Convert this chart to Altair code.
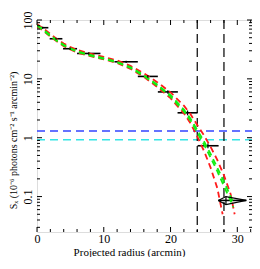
import altair as alt
import pandas as pd

# ---------------- data ----------------
pt_xlo = [0.0, 1.9, 3.9, 6.0, 11.6, 15.1, 18.1, 21.05, 24.05, 27.15]
pt_xhi = [1.7, 3.8, 6.0, 9.5, 15.1, 18.1, 21.1, 24.05, 27.2, 31.35]
pt_y = [74, 48, 32.5, 27, 19.5, 11.0, 6.0, 2.65, 0.73, 0.086]
pt_ylo = [71, 46, 31, 25.8, 18.6, 10.4, 5.6, 2.4, 0.66, 0.073]
pt_yhi = [77, 50, 34, 28.2, 20.4, 11.6, 6.4, 2.9, 0.8, 0.1]
pt_xc = [0.85, 2.85, 4.95, 7.75, 13.35, 16.6, 19.6, 22.55, 25.6, 28.3]

model_x = [0, 1, 2, 3, 4, 5, 6, 8, 10, 12, 14, 16, 18, 20, 22, 23, 24, 25, 26, 27, 28, 29, 29.4]
green_a = [82, 68, 55, 45, 38, 33, 29.5, 25.5, 22.5, 19.5, 15.8, 11.6, 8.0, 5.3, 3.0, 2.1, 1.35, 0.87, 0.53, 0.31, 0.18, 0.10, 0.078]
green_b = [80, 66, 53.5, 44, 37, 32.2, 28.8, 24.8, 21.9, 19.0, 15.3, 11.2, 7.7, 5.0, 2.8, 1.95, 1.22, 0.77, 0.46, 0.27, 0.15, 0.085, 0.066]
redhi_x = [0, 1, 2, 3, 4, 5, 6, 8, 10, 12, 14, 16, 18, 20, 22, 23, 24, 25, 26, 27, 28, 29, 29.6]
red_hi = [86, 71, 58, 47, 40, 34.5, 31, 26.8, 23.6, 20.5, 16.6, 12.4, 8.8, 5.9, 3.5, 2.5, 1.65, 1.1, 0.7, 0.42, 0.23, 0.11, 0.05]
redlo_x = [0, 1, 2, 3, 4, 5, 6, 8, 10, 12, 14, 16, 18, 20, 22, 23, 24, 25, 26, 27, 27.8]
red_lo = [78, 65, 52, 43, 36, 31.5, 28, 24.3, 21.5, 18.6, 14.8, 10.8, 7.3, 4.7, 2.6, 1.75, 1.05, 0.6, 0.31, 0.14, 0.05]

vlines_x = [24, 28]
blue_y = [1.3]
cyan_y = [0.92]

x_major = [0, 10, 20, 30]
x_minor = [2, 4, 6, 8, 12, 14, 16, 18, 22, 24, 26, 28, 32]
y_major = [0.1, 1, 10, 100]
y_minor = [0.03, 0.04, 0.05, 0.06, 0.07, 0.08, 0.09,
           0.2, 0.3, 0.4, 0.5, 0.6, 0.7, 0.8, 0.9,
           2, 3, 4, 5, 6, 7, 8, 9,
           20, 30, 40, 50, 60, 70, 80, 90]

# ---------------- chart ----------------
W, H = 215, 212
FONT = "Liberation Serif"
xs = alt.Scale(domain=[0, 32.2], nice=False, zero=False)
ys = alt.Scale(type="log", domain=[0.025, 100], nice=False)

xaxis = alt.Axis(values=x_major, ticks=False, domain=False, grid=False,
                 labelFont=FONT, labelFontSize=12, labelColor="black",
                 labelPadding=1, labelFlush=False,
                 title="Projected radius (arcmin)", titleFont=FONT,
                 titleFontSize=11, titleFontWeight="normal", titleColor="black",
                 titleX=92, titleY=23, titleBaseline="alphabetic")
yaxis = alt.Axis(values=y_major, format="~g", ticks=False, domain=False, grid=False,
                 labelFont=FONT, labelFontSize=12, labelColor="black",
                 labelAngle=270, labelAlign="center", labelBaseline="bottom",
                 labelPadding=3,
                 title="Sₓ (10⁻⁶ photons cm⁻² s⁻¹ arcmin⁻²)", titleFont=FONT,
                 titleFontSize=10, titleFontWeight="normal", titleColor="black",
                 titleAngle=270, titleX=-24, titleY=120, titleAlign="center",
                 titleBaseline="middle")


def X(f):
    return alt.X(f, scale=xs, axis=xaxis)


def Y(f):
    return alt.Y(f, scale=ys, axis=yaxis)


pts = pd.DataFrame({"xlo": pt_xlo, "xhi": pt_xhi, "y": pt_y, "ylo": pt_ylo,
                    "yhi": pt_yhi, "xc": pt_xc})

hbars = alt.Chart(pts).mark_rule(color="black", strokeWidth=1.6).encode(
    x=X("xlo:Q"), x2="xhi:Q", y=Y("y:Q"))
vbars = alt.Chart(pts).mark_rule(color="black", strokeWidth=1.2).encode(
    x=X("xc:Q"), y=Y("ylo:Q"), y2="yhi:Q")

# diamond-shaped error region of the last point
i = len(pt_y) - 1
dia = pd.DataFrame({
    "x": [pt_xlo[i], pt_xc[i], pt_xhi[i], pt_xc[i], pt_xlo[i]],
    "y": [pt_y[i], pt_yhi[i], pt_y[i], pt_ylo[i], pt_y[i]],
    "o": [0, 1, 2, 3, 4],
})
diamond = alt.Chart(dia).mark_line(color="black", strokeWidth=1.2).encode(
    x=X("x:Q"), y=Y("y:Q"), order="o:O")


def model_line(xv, yv, color):
    df = pd.DataFrame({"x": xv, "y": yv})
    return alt.Chart(df).mark_line(color=color, strokeWidth=1.8,
                                   strokeDash=[6, 4], clip=True).encode(
        x=X("x:Q"), y=Y("y:Q"))


red1 = model_line(redhi_x, red_hi, "#ff1a1a")
red2 = model_line(redlo_x, red_lo, "#ff1a1a")
grn1 = model_line(model_x, green_a, "#11ee11")
grn2 = model_line(model_x, green_b, "#11ee11")

vl = alt.Chart(pd.DataFrame({"x": vlines_x})).mark_rule(
    color="black", strokeWidth=1.2, strokeDash=[9, 5]).encode(
    x=X("x:Q"), y=alt.value(0), y2=alt.value(H))
bl = alt.Chart(pd.DataFrame({"y": blue_y})).mark_rule(
    color="#3344ff", strokeWidth=1.5, strokeDash=[8, 5]).encode(
    y=Y("y:Q"), x=alt.value(0), x2=alt.value(W))
cy = alt.Chart(pd.DataFrame({"y": cyan_y})).mark_rule(
    color="#33e5e5", strokeWidth=1.5, strokeDash=[8, 5]).encode(
    y=Y("y:Q"), x=alt.value(0), x2=alt.value(W))


def xticks(vals, ln):
    df = pd.DataFrame({"v": vals})
    base = alt.Chart(df).mark_rule(color="black", strokeWidth=1)
    bot = base.encode(x=X("v:Q"), y=alt.value(H), y2=alt.value(H - ln))
    top = base.encode(x=X("v:Q"), y=alt.value(0), y2=alt.value(ln))
    return [bot, top]


def yticks(vals, ln):
    df = pd.DataFrame({"v": vals})
    base = alt.Chart(df).mark_rule(color="black", strokeWidth=1)
    lft = base.encode(y=Y("v:Q"), x=alt.value(0), x2=alt.value(ln))
    rgt = base.encode(y=Y("v:Q"), x=alt.value(W), x2=alt.value(W - ln))
    return [lft, rgt]


ticks = xticks(x_major, 5) + xticks(x_minor, 3) + yticks(y_major, 5) + yticks(y_minor, 3)

chart = alt.layer(
    hbars, bl, cy, vl, red1, red2, grn1, grn2, vbars, diamond, *ticks
).properties(
    width=W, height=H,
    autosize=alt.AutoSizeParams(type="none"),
    padding={"left": 29, "top": 12, "right": 0, "bottom": 25},
).configure_view(
    stroke="black", strokeWidth=1
).configure(background="white")

chart.save("out.html", embed_options={"renderer": "svg", "actions": False})
